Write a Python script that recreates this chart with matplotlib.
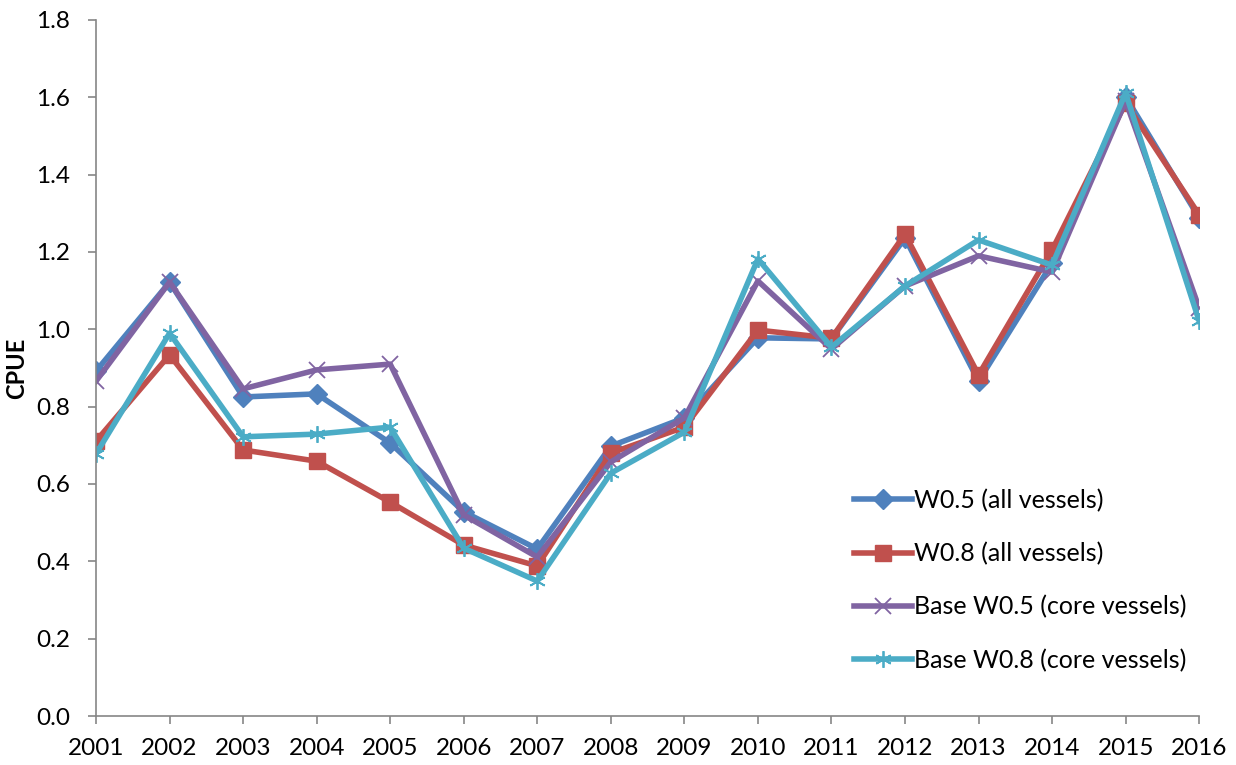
import matplotlib.pyplot as plt
import numpy as np

plt.rcParams['font.family'] = ['Lato', 'DejaVu Sans']

years = list(range(2001, 2017))
w05_all = [0.892, 1.122, 0.825, 0.833, 0.706, 0.528, 0.432, 0.698, 0.771, 0.978,
           0.975, 1.236, 0.866, 1.171, 1.601, 1.288]
w08_all = [0.711, 0.934, 0.688, 0.659, 0.553, 0.442, 0.388, 0.680, 0.747, 0.998,
           0.977, 1.246, 0.882, 1.205, 1.585, 1.296]
base_w05 = [0.866, 1.122, 0.846, 0.895, 0.910, 0.520, 0.411, 0.657, 0.771, 1.125,
            0.949, 1.112, 1.190, 1.148, 1.590, 1.055]
base_w08 = [0.678, 0.990, 0.722, 0.729, 0.747, 0.434, 0.349, 0.628, 0.734, 1.182,
            0.954, 1.112, 1.231, 1.166, 1.611, 1.021]

fig = plt.figure(figsize=(12.36, 7.65), dpi=100)
ax = fig.add_axes([0.0777, 0.064, 0.8925, 0.910])

ax.plot(years, w05_all, color='#4F81BD', lw=4, marker='D', ms=10,
        label='W0.5 (all vessels)')
ax.plot(years, w08_all, color='#C0504D', lw=4, marker='s', ms=11,
        label='W0.8 (all vessels)')
ax.plot(years, base_w05, color='#8064A2', lw=4, marker='x', ms=11, mew=1.3,
        label='Base W0.5 (core vessels)')
ax.plot(years, base_w08, color='#4BACC6', lw=4, marker=(6, 2, 0), ms=12, mew=1.3,
        label='Base W0.8 (core vessels)')

ax.set_xlim(2001, 2016)
ax.set_ylim(0, 1.8)
ax.set_xticks(years)
ax.set_yticks(np.arange(0, 1.81, 0.2))
ax.set_yticklabels([f'{v:.1f}' for v in np.arange(0, 1.81, 0.2)])
ax.tick_params(labelsize=17.5, length=5.5, color='#868686', width=1.2)
ax.tick_params(axis='y', pad=13)
ax.tick_params(axis='x', pad=10)
for s in ['top', 'right']:
    ax.spines[s].set_visible(False)
for s in ['left', 'bottom']:
    ax.spines[s].set_color('#868686')
    ax.spines[s].set_linewidth(1.2)
ax.set_ylabel('CPUE', fontsize=17, fontweight='bold', labelpad=6)

ax.legend(loc='lower left', bbox_to_anchor=(0.667, 0.031), frameon=False,
          fontsize=18, handlelength=2.3, handletextpad=0.1, labelspacing=1.2)

fig.savefig('out.png', dpi=100)
